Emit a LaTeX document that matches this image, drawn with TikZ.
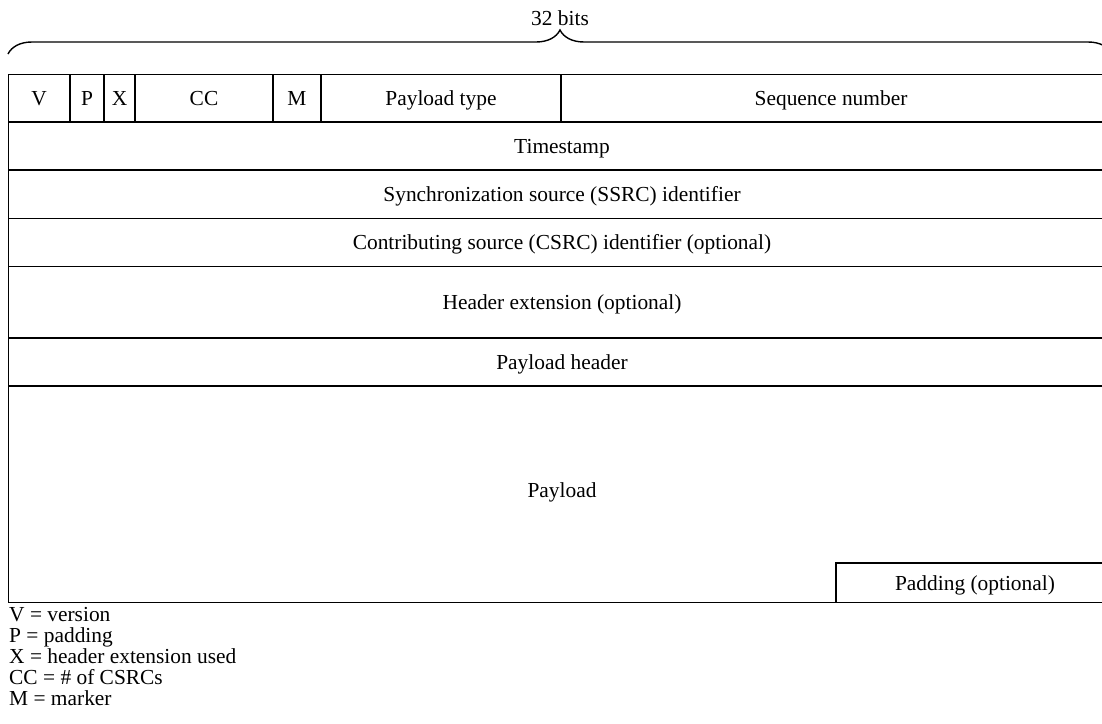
\documentclass[tikz,border=0pt]{standalone}
\usepackage{fontspec}
\setmainfont{Liberation Serif}
\usetikzlibrary{decorations.pathreplacing}
\begin{document}
\begin{tikzpicture}[x=1pt,y=-1pt,
  rule/.style={line width=1.8pt, line cap=rect},
  field/.style={font=\fontsize{21.4}{21}\selectfont, inner sep=0pt, anchor=base},
  keyline/.style={font=\fontsize{21.4}{21}\selectfont, inner sep=0pt, anchor=base west},
  bracestyle/.style={line width=1.4pt, decorate,
    decoration={brace, amplitude=24pt, aspect=0.5}}]
\useasboundingbox (0,0) rectangle (1102,723);

% width brace with its caption
\coordinate (bl) at (8,54);
\coordinate (br) at (1112,54);
\draw[bracestyle] (bl) -- (br);
\node[field] (bits) at (560,25) {32 bits};

% horizontal rules between the header words
\foreach \y in {74.5,122.3,170.3,218.5,266.5,338.3,386,602.5}
  \draw[rule] (8.5,\y) -- (1102,\y);
% left edge
\draw[rule] (8.5,74.5) -- (8.5,602.5);

% first word: bit fields
\foreach \x in {70,104,135,273,321,561}
  \draw[rule] (\x,74.5) -- (\x,122.3);
\node[field] (v)  at (39,105.5)  {V};
\node[field] (p)  at (87,105.5)  {P};
\node[field] (x)  at (119.5,105.5) {X};
\node[field] (cc) at (204,105.5) {CC};
\node[field] (m)  at (297,105.5) {M};
\node[field] (pt) at (441,105.5) {Payload type};
\node[field] (sn) at (831,105.5) {Sequence number};

% full-width words
\node[field] (ts)   at (562,153.5) {Timestamp};
\node[field] (ssrc) at (562,201.5) {Synchronization source (SSRC) identifier};
\node[field] (csrc) at (562,249.5) {Contributing source (CSRC) identifier (optional)};
\node[field] (hext) at (562,309.5) {Header extension (optional)};
\node[field] (ph)   at (562,369.5) {Payload header};
\node[field] (pl)   at (562,497)   {Payload};

% padding box in the payload's lower right corner
\draw[rule] (836,563.3) -- (1102,563.3);
\draw[rule] (836,563.3) -- (836,602.5);
\node[field] (pad) at (975,590) {Padding (optional)};

% legend
\node[keyline] (k1) at (9,621) {V = version};
\node[keyline] (k2) at (9,642) {P = padding};
\node[keyline] (k3) at (9,663) {X = header extension used};
\node[keyline] (k4) at (9,684) {CC = \# of CSRCs};
\node[keyline] (k5) at (9,705) {M = marker};
\end{tikzpicture}
\end{document}
